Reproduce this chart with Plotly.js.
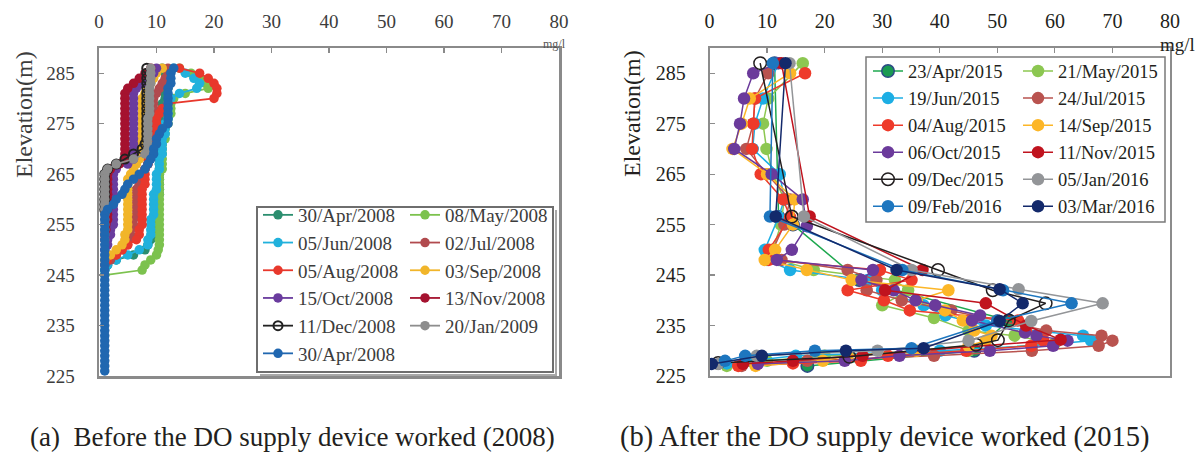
<!DOCTYPE html>
<html><head><meta charset="utf-8">
<script src="https://cdn.plot.ly/plotly-3.0.1.min.js"></script>
<style>html,body{margin:0;padding:0;background:#fff;}#chart{width:1203px;height:453px;}</style>
</head><body><div id="chart"></div>
<script>
// ---------- shared ticks ----------
const X_TICKS = [0, 10, 20, 30, 40, 50, 60, 70, 80];
const Y_TICKS = [225, 235, 245, 255, 265, 275, 285];

// ---------- (a) 2008 profiles: elevation (m) and DO (mg/l) ----------
const ELEV_2008 = [286,285,284,283,282,281,280,279,278,277,276,275,274,273,272,271,270,269,268,267,266,265,264,263,262,261,260,259,258,257,256,255,254,253,252,251,250,249,248,247,246,245,244,243,242,241,240,239,238,237,236,235,234,233,232,231,230,229,228,227,226];
const LABELS_2008 = ['30/Apr/2008','08/May/2008','05/Jun/2008','02/Jul/2008','05/Aug/2008','03/Sep/2008','15/Oct/2008','13/Nov/2008','11/Dec/2008','20/Jan/2009','30/Apr/2008'];
const DO_APR08A = [11,11.5,12,12,12,11.5,11.5,11,11,11,11,11, 11,11,11,11,10.5,10.5,10.5,10.5,10.5,10.5,10.5,10.5, 10.5,10.5,10,10,10,10,10,10,9.5,9.5,9,8.5, 8,6,3,1.5,1];
const DO_MAY08 = [14,16,17.5,18.5,19,15,13,12.5,12.5,12.5,12,12, 11.5,11.5,11.5,11,11,11,11,11,11,10.5,10.5,10.5, 10.5,10.5,10.5,10.5,10.5,10.5,10.5,10.5,10.5,10.5,10.5,10.5, 10.3,10,9,8,7.5,1];
const DO_JUN08 = [13,15,16.5,17.5,17,14,12.5,12,12,12,12,11.5, 11.5,11.5,11,11,11,11,10.5,10.5,10.5,10,10,10, 10,9.5,9.5,9.5,9.5,9.5,9,9,9,9,8.5,8.5, 7,5,3,1.5,1];
const DO_JUL08 = [12,12,11.5,11,10.5,10,9.5,9.5,9.5,9.5,9.5,9.5, 9,9,9,9,9,8.5,8.5,8.5,8,7.5,7,7, 6.5,6.5,6.5,6.5,6.5,6.5,6,6,5.5,5.5,5,5, 4,3,2,1];
const DO_AUG08 = [14,17.5,19,20,20.5,20.5,20,12,11,10.5,10,10, 10,10,9.5,9.5,9,9,8.5,8.5,8,8,8,8, 7.5,7.5,7.5,7.5,7.5,7.5,7.5,7.5,7,7,6.5,5, 4,3,1.5];
const DO_SEP08 = [11,10,9.5,9,8.5,8,7.5,7.5,7.5,7.5,7.5,7.5, 7.5,7.5,7,7,7,7,7,6.5,6,5.5,5,5, 5,5,5,5,5,5,5,5,5,4.5,4.5,4, 3,2,1];
const DO_OCT08 = [10,9.5,8.5,7.5,6.5,6,6,6,6,6,6,6, 6,6,6,6,6,6,6,5,3,2.5,2.5,2.5, 2.5,2.5,2.5,2.5,2.5,2.5,2.5,2.5,2,2,1.5,1.5, 1];
const DO_NOV08 = [9,8,7,6,5,4.5,4.5,4.5,4.5,4.5,4.5,4.5, 4.5,4.5,4.5,4.5,4.5,4.5,4.5,3.5,2,1.5,1.5,1.5, 1.5,1.5,1.5,1.5,1.5,1.5,1.5,1.2,1.2,1,1];
const DO_DEC08 = [8.3,8.3,8.3,8.3,8.3,8.3,8.3,8.3,8.3,8.3,8.3,8.3, 8.3,8.3,8.3,8,7.5,6,4.5,3,1.5,1,1,1, 1,1,1,1,1];
const DO_JAN09 = [9,9,9,9,8.8,8.8,8.8,8.8,8.8,8.8,8.5,8.5, 8.5,8.5,8.5,8.5,8.5,8,6,3,1.5,1,1,1, 1,1,1,1,1,1,1,1,1,1,1];
const DO_APR08B = [13,12.5,12.5,12.5,12,12,12,12,12,12,12,12, 11,10.5,10,10,9.5,9.5,9,8.5,8,7,6,5, 4.5,4,3,2.5,1.5,1,1,1,1,1,1,1, 1,1,1,1,1,1,1,1,1,1,1,1, 1,1,1,1,1,1,1,1,1,1,1,1,1];
const COLORS_2008 = ['#2b8e6f','#7cc24e','#21b1dc','#b14a4e','#e8382c','#f1b52a','#6a3c9e','#a5122f','#222222','#8d8d8d','#2067b0'];

// ---------- (b) 2015-2016 profiles ----------
const LABELS_2015 = ['23/Apr/2015','21/May/2015','19/Jun/2015','24/Jul/2015','04/Aug/2015','14/Sep/2015','06/Oct/2015','11/Nov/2015','09/Dec/2015','05/Jan/2016','09/Feb/2016','03/Mar/2016'];
const ELEV_APR15 = [287,256.5,255,244,236,230,227];
const DO_APR15   = [11.3,12,14.5,26,52,46,17];
const ELEV_MAY15 = [287,280,275,270,265,260,255,250,248,246,244,242,239,236.5,234,233,231.5,230,229,228,227];
const DO_MAY15   = [16.2,10.2,9.3,9.9,11,13,12.4,11,12,18.1,32.2,34.5,30,39,45,53,60,45,20,10,3];
const ELEV_JUN15 = [287,280,275,270,265,260,256.5,250,248,246,244,242,239,237,235,233,232,231,230,229,228,227.5];
const DO_JUN15   = [12,9.3,7.9,7.5,12.2,13,12,9.6,10,14,27.5,30,37.2,41,48,64.9,66.3,56,40,15,7,3];
const ELEV_JUL15 = [285,280,275,270,265,260,255,250,248,246,244,242,240,238,236,234,233,232,231,230,229,228,227];
const DO_JUL15   = [10.2,7.9,7.6,6.4,10,14,13,11,12.5,24,29,27.3,33.4,42,50,58.5,68.1,70,67.6,56,39,17,5.6];
const ELEV_AUG15 = [285,280,275,270,265,260,256.5,250,248,246,244,242,240,238,236,234,232,231,230,229,228,227.5,227];
const DO_AUG15   = [16.6,7.9,7.6,7.4,8.9,12.8,14,10.3,10.3,29.6,35.1,24,30.3,34.8,53.6,55,58,55.9,44.6,31,26.3,14.5,5];
const ELEV_SEP15 = [285,280,275,270,265,260,255,250,248,246,244,242,240,238,236,234,233,232,231,230,229,228,227];
const DO_SEP15   = [14,7,5.6,4,10,14.8,14.5,11.4,9.6,16.9,24.7,41.5,36,40.9,44,46,49,48,45,36,24,19.7,8];
const ELEV_OCT15 = [287,285,280,275,270,265,260,254.7,250,248,246,244,242,240,239,237,236,233.6,233,232,231,230,229,228,227.4];
const DO_OCT15   = [12,7.6,6,5.3,4.3,10.8,16.2,16.9,14.3,11.7,28.4,26.4,32,35.8,39.2,47,45.6,54.8,56.8,62.2,59.7,48.7,33,23.5,8.4];
const ELEV_NOV15 = [287,256.6,246,242,239.4,235,232.2,229,228,227.4];
const DO_NOV15   = [12.5,17.4,37,30.5,48,55,61,26.6,14.5,5.8];
const ELEV_DEC15 = [287,256.6,246,242,239.4,236,232.1,231.2,228.8,227.6];
const DO_DEC15   = [8.8,14.3,39.7,49.2,58.4,52,50.1,46.3,24.3,1.5];
const ELEV_JAN16 = [287,256.6,246,242.2,239.4,235.9,232,230,229,227.4];
const DO_JAN16   = [13.9,16.4,35.1,53.7,68.3,55.9,45,29.2,8.2,1.5];
const ELEV_FEB16 = [287,256.6,246,242,239.4,236,230.5,230,229,228];
const DO_FEB16   = [11,10.5,33.5,51,62.9,50,35.1,18.3,6.2,2.7];
const ELEV_MAR16 = [287,256.6,246,242.2,239.4,235.9,230.5,230,229,227.4];
const DO_MAR16   = [13.2,11.5,32.5,50.4,54.4,50.4,37.2,23.7,9.1,0.4];
const COLORS_2015 = ['#1fa84f','#8cc751','#1caee4','#b9534f','#ee3a2a','#fcb627','#6b3a9b','#c0131e','#231f20','#939598','#1d76bf','#13296b'];

// ---------- build traces ----------
const W = 1203, H = 453;
const px = v => v / W, py = v => 1 - v / H;
const FONT = '"Liberation Serif","Times New Roman",serif';

const do2008 = [DO_APR08A, DO_MAY08, DO_JUN08, DO_JUL08, DO_AUG08, DO_SEP08, DO_OCT08, DO_NOV08, DO_DEC08, DO_JAN09, DO_APR08B];
const traces = [];
do2008.forEach((d, i) => {
  const open = i === 8;
  traces.push({
    type: 'scatter', mode: 'lines+markers', x: d, y: ELEV_2008, xaxis: 'x', yaxis: 'y',
    name: LABELS_2008[i], legend: (i % 2 === 0) ? 'legend' : 'legend2',
    line: {color: COLORS_2008[i], width: 1.8},
    marker: open ? {symbol: 'circle-open', size: 9, color: COLORS_2008[i], line: {width: 2}}
                 : {symbol: 'circle', size: 9.5, color: COLORS_2008[i]},
    hoverinfo: 'skip'
  });
});

const series2015 = [
  [ELEV_APR15, DO_APR15], [ELEV_MAY15, DO_MAY15], [ELEV_JUN15, DO_JUN15], [ELEV_JUL15, DO_JUL15],
  [ELEV_AUG15, DO_AUG15], [ELEV_SEP15, DO_SEP15], [ELEV_OCT15, DO_OCT15], [ELEV_NOV15, DO_NOV15],
  [ELEV_DEC15, DO_DEC15], [ELEV_JAN16, DO_JAN16], [ELEV_FEB16, DO_FEB16], [ELEV_MAR16, DO_MAR16]
];
series2015.forEach((s, i) => {
  let marker = {symbol: 'circle', size: 12.5, color: COLORS_2015[i]};
  if (i === 0) marker = {symbol: 'circle', size: 12.5, color: '#1a9a52', line: {color: '#2c4a86', width: 1.5}};
  if (i === 8) marker = {symbol: 'circle-open', size: 12.5, color: COLORS_2015[i], line: {width: 1.5}};
  traces.push({
    type: 'scatter', mode: 'lines+markers', x: s[1], y: s[0], xaxis: 'x2', yaxis: 'y2',
    name: LABELS_2015[i], legend: (i % 2 === 0) ? 'legend3' : 'legend4',
    line: {color: COLORS_2015[i], width: 1.5},
    marker: marker, hoverinfo: 'skip'
  });
});

const yDom = [py(376), py(48)];
function xAxis(dom, anchor, fs, col, lc, lw) {
  return {domain: dom, anchor: anchor, range: [0, 80], side: 'top', tickmode: 'array', tickvals: X_TICKS,
    ticks: 'inside', ticklen: 5, tickwidth: 1.2, tickcolor: lc, showline: true, linecolor: lc, linewidth: lw,
    mirror: true, showgrid: false, zeroline: false, ticklabelstandoff: 10,
    tickfont: {family: FONT, size: fs, color: col}, fixedrange: true};
}
function yAxis(anchor, fs, col, lc, lw) {
  return {domain: yDom, anchor: anchor, range: [225, 290], tickmode: 'array', tickvals: Y_TICKS,
    ticks: 'inside', ticklen: 5, tickwidth: 1.2, tickcolor: lc, showline: true, linecolor: lc, linewidth: lw,
    mirror: true, showgrid: false, zeroline: false, ticklabelstandoff: 18,
    tickfont: {family: FONT, size: fs, color: col}, fixedrange: true};
}
function legendAt(x, y, fs, col) {
  return {x: x, y: y, xanchor: 'left', yanchor: 'top', orientation: 'v', bgcolor: 'rgba(0,0,0,0)',
    borderwidth: 0, font: {family: FONT, size: fs, color: col}, itemwidth: 30, tracegroupgap: 0, itemclick: false, itemdoubleclick: false};
}
function note(text, x, y, fs, col, angle) {
  return {text: text, xref: 'paper', yref: 'paper', x: px(x), y: py(y), xanchor: 'center', yanchor: 'middle',
    textangle: angle || 0, showarrow: false, font: {family: FONT, size: fs, color: col}};
}

const layout = {
  width: W, height: H, margin: {l: 0, r: 0, t: 0, b: 0},
  paper_bgcolor: '#ffffff', plot_bgcolor: 'rgba(0,0,0,0)',
  font: {family: FONT, color: '#231f20'},
  showlegend: true,
  xaxis: xAxis([px(99), px(559)], 'y', 19, '#3c3c3c', '#8a8a8a', 2.5),
  yaxis: yAxis('x', 19, '#3c3c3c', '#8a8a8a', 2.5),
  xaxis2: xAxis([px(709.5), px(1170)], 'y2', 20, '#231f20', '#8c8c8c', 1.8),
  yaxis2: yAxis('x2', 20, '#231f20', '#8c8c8c', 1.8),
  legend: legendAt(px(258), py(196), 19, '#3c3c3c'),
  legend2: legendAt(px(405), py(196), 19, '#3c3c3c'),
  legend3: legendAt(px(868), py(52.5), 18.5, '#231f20'),
  legend4: legendAt(px(1018), py(52.5), 18.5, '#231f20'),
  shapes: [
    {type: 'path', xref: 'paper', yref: 'paper',
     path: 'M' + px(556) + ',' + py(210) + ' L' + px(556) + ',' + py(375) + ' L' + px(260) + ',' + py(375),
     line: {color: '#a8a8a8', width: 2}},
    {type: 'rect', xref: 'paper', yref: 'paper', x0: px(257), x1: px(553), y0: py(372), y1: py(207), line: {color: '#6e6e6e', width: 2}},
    {type: 'rect', xref: 'paper', yref: 'paper', x0: px(866), x1: px(1165), y0: py(222), y1: py(57), line: {color: '#7a7a7a', width: 1.5}}
  ],
  annotations: [
    note('mg/l', 554, 44, 12, '#555'),
    note('mg/l', 1177, 44, 19, '#231f20'),
    note('Elevation(m)', 24, 115, 24, '#3c3c3c', -90),
    note('Elevation(m)', 632, 114, 24, '#231f20', -90),
    note('(a)  Before the DO supply device worked (2008)', 292, 437, 27, '#231f20'),
    note('(b) After the DO supply device worked (2015)', 884, 437, 28.5, '#231f20')
  ]
};

Plotly.newPlot('chart', traces, layout, {staticPlot: true, displayModeBar: false});
</script></body></html>
